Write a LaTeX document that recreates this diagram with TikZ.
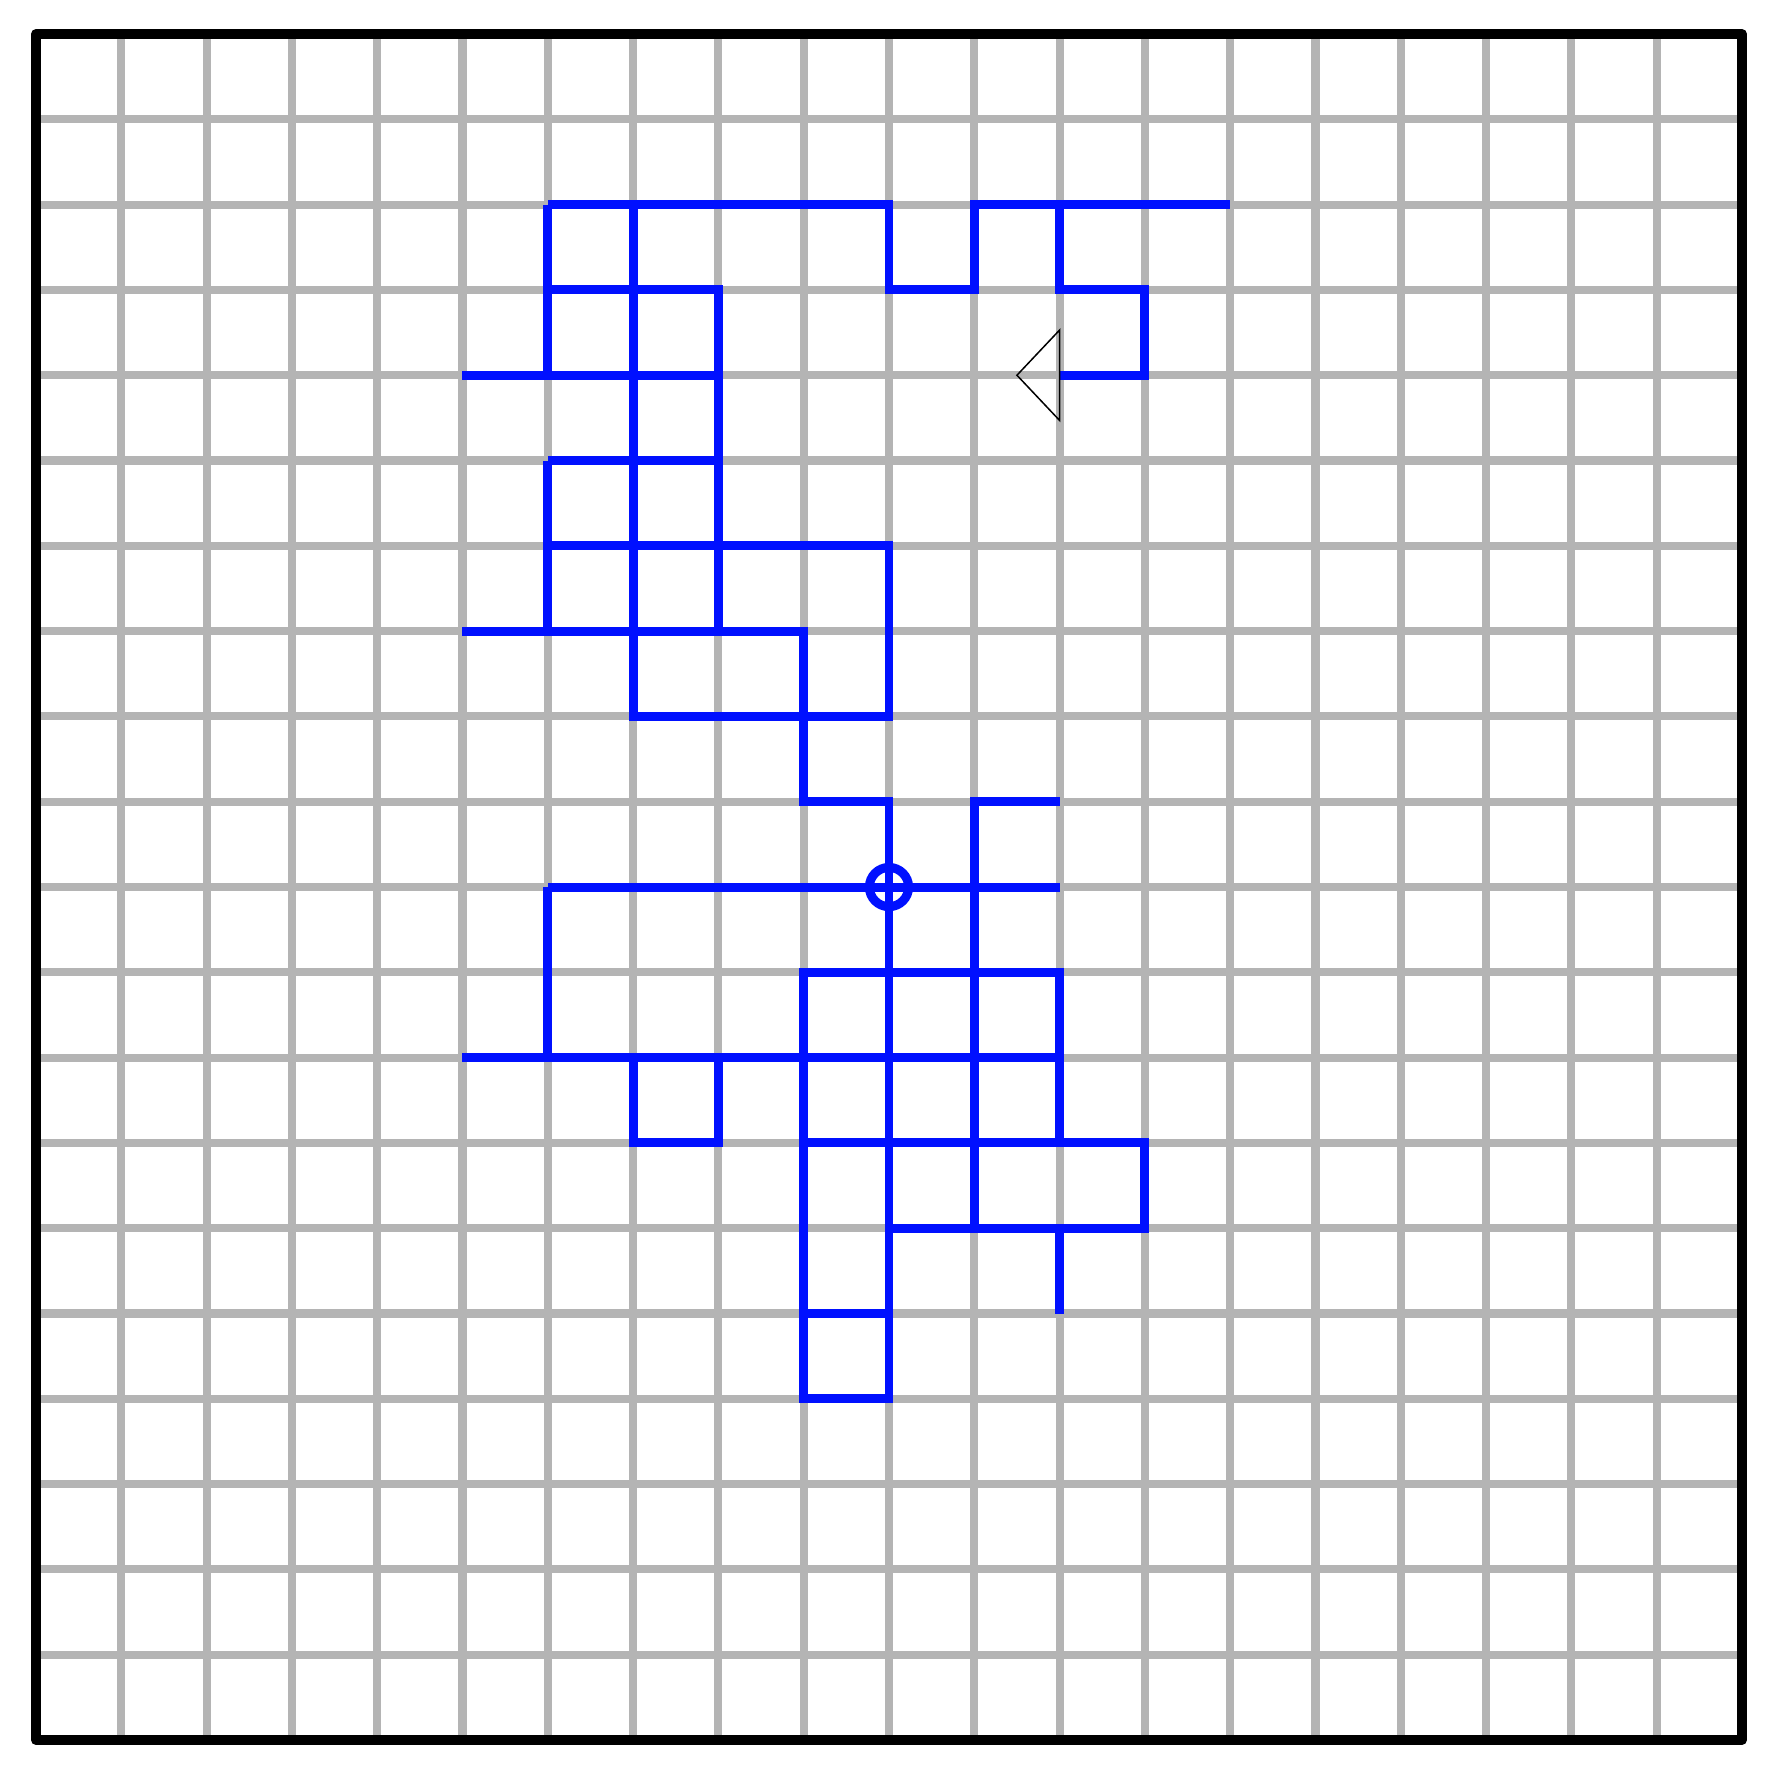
\documentclass[tikz,border=0pt]{standalone}
\usepackage{tikz}
\definecolor{trail}{RGB}{0,16,255}
\definecolor{gridgray}{RGB}{180,180,180}

\begin{document}
\begin{tikzpicture}[x=1cm, y=-1cm,
    gridline/.style={draw=gridgray, line width=2.7pt},
    frame/.style={draw=black, line width=3.3pt, line join=round},
    trailline/.style={draw=trail, line width=3pt, line join=miter},
    turtle/.style={draw=black, line width=0.5pt}]
    \useasboundingbox (-0.422,-0.399) rectangle (20.469,20.399);

    \draw[gridline] (0,0) grid (20,20);
    \draw[frame] (0,0) rectangle (20,20);

    \coordinate (home) at (10,10);
    \coordinate (turtle) at (12,4);

    \draw[trailline] (5,4) -- (8,4);
    \draw[trailline] (6,2) -- (10,2) -- (10,3) -- (11,3) -- (11,2) -- (14,2);
    \draw[trailline] (12,2) -- (12,3) -- (13,3) -- (13,4) -- (turtle);
    \draw[trailline] (6,2) -- (6,4);
    \draw[trailline] (7,2) -- (7,8) -- (10,8) -- (10,6) -- (6,6);
    \draw[trailline] (6,3) -- (8,3) -- (8,7);
    \draw[trailline] (6,5) -- (8,5);
    \draw[trailline] (6,5) -- (6,7);
    \draw[trailline] (5,7) -- (9,7) -- (9,9) -- (10,9) -- (home);
    \draw[trailline] (home) -- (10,16) -- (9,16) -- (9,11) -- (12,11) -- (12,13);
    \draw[trailline] (6,10) -- (12,10);
    \draw[trailline] (6,10) -- (6,12);
    \draw[trailline] (5,12) -- (12,12);
    \draw[trailline] (12,9) -- (11,9) -- (11,14);
    \draw[trailline] (7,12) -- (7,13) -- (8,13) -- (8,12);
    \draw[trailline] (9,13) -- (13,13) -- (13,14) -- (10,14);
    \draw[trailline] (12,14) -- (12,15);
    \draw[trailline] (9,15) -- (10,15);

    \draw[trailline] (home) circle (0.23);
    \draw[turtle] (turtle) -- ++(0,-0.53) -- ++(-0.5,0.53) -- ++(0.5,0.53) -- cycle;
\end{tikzpicture}
\end{document}
